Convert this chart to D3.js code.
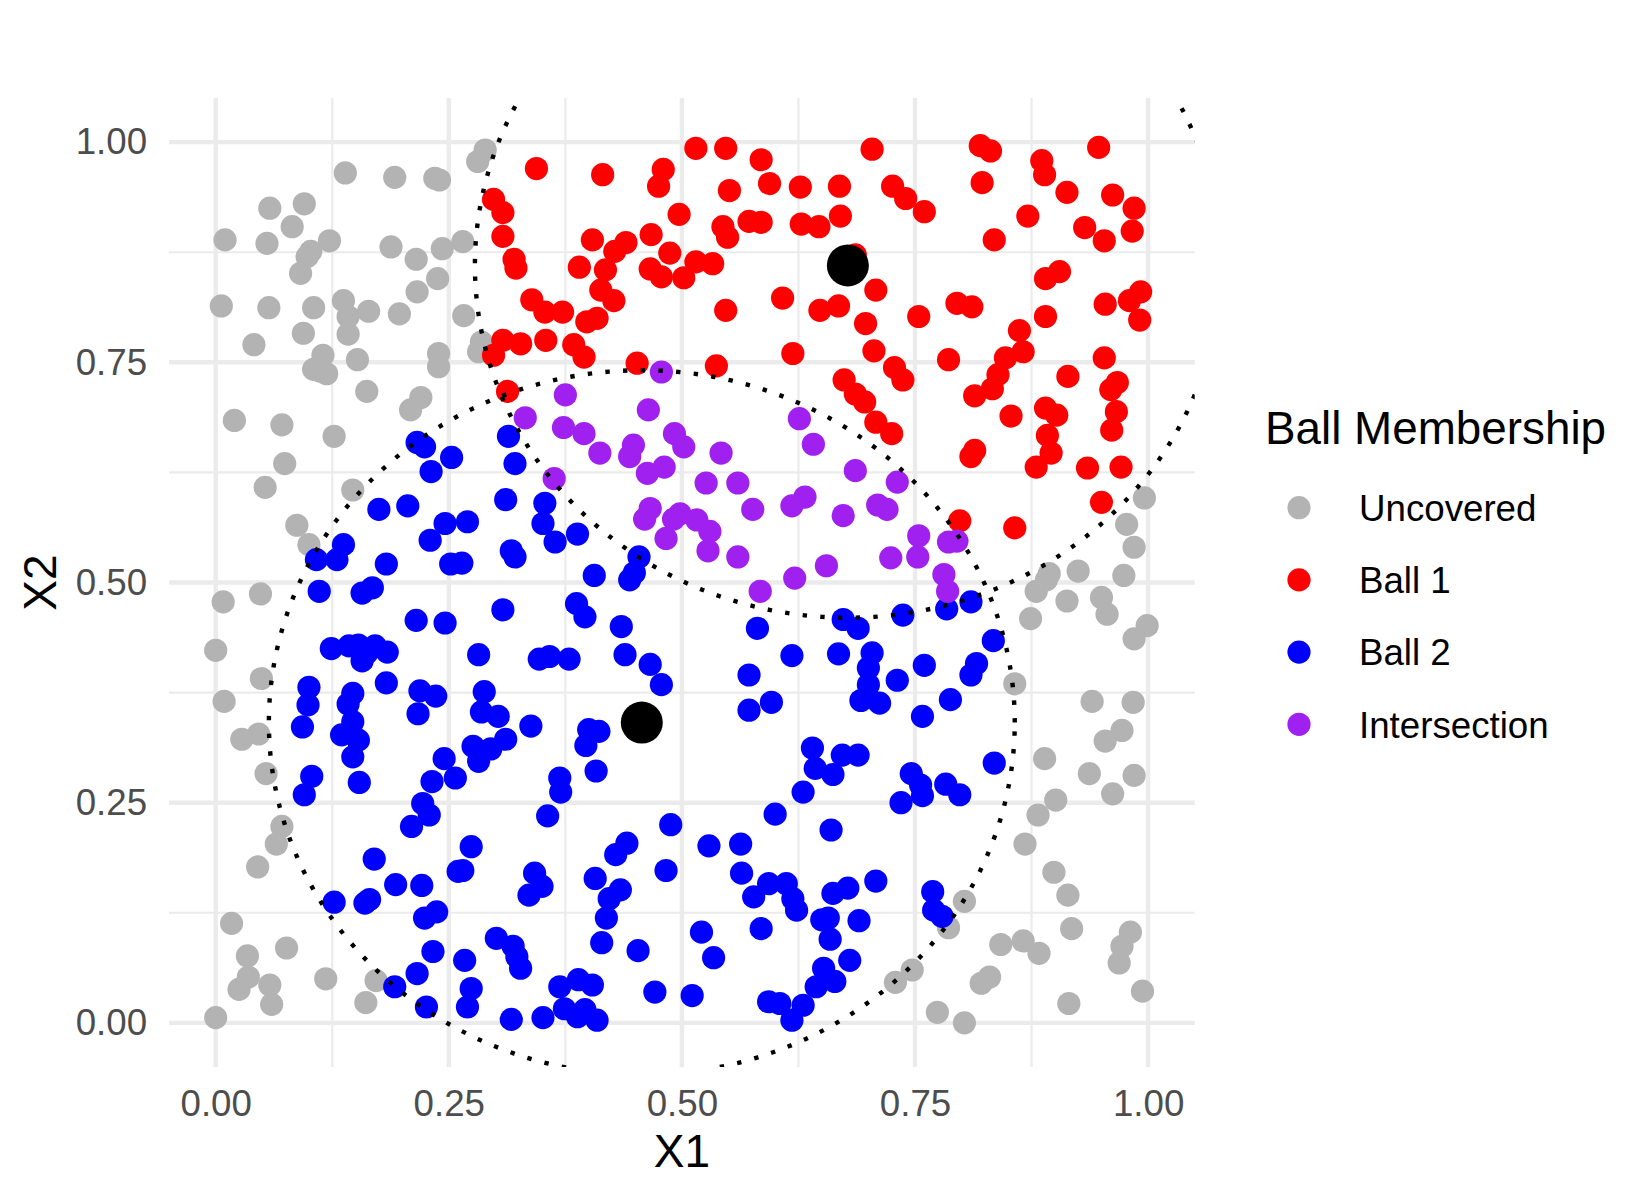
<!DOCTYPE html>
<html>
<head>
<meta charset="utf-8">
<script src="https://cdn.jsdelivr.net/npm/d3@7"></script>
<style>
  html, body { margin: 0; padding: 0; background: #ffffff; }
  svg { display: block; }
</style>
</head>
<body>
<svg id="chart" width="1650" height="1200"></svg>
<script>
// ---------------- DATA ----------------
const categories = ["Uncovered", "Ball 1", "Ball 2", "Intersection"];
const categoryColors = ["#B3B3B3", "#FF0000", "#0000FF", "#A020F0"];
const xTicks = [0, 0.25, 0.5, 0.75, 1];
const yTicks = [0, 0.25, 0.5, 0.75, 1];
const minorBreaks = [0.125, 0.375, 0.625, 0.875];
const ballCenters = [[0.678, 0.860], [0.457, 0.341]];
const ballRadius = [0.4, 0.4];

const uncoveredPts = [
  [0.289,0.991],[0.281,0.978],[0.139,0.965],[0.192,0.960],[0.235,0.959],[0.240,0.957],
  [0.058,0.925],[0.095,0.930],[0.082,0.904],[0.010,0.889],[0.055,0.885],[0.122,0.888],
  [0.102,0.876],[0.098,0.870],[0.091,0.851],[0.188,0.881],[0.215,0.867],[0.243,0.879],
  [0.265,0.887],[0.238,0.845],[0.216,0.830],[0.266,0.803],[0.006,0.814],[0.057,0.812],
  [0.105,0.812],[0.137,0.820],[0.142,0.802],[0.164,0.808],[0.197,0.805],[0.142,0.782],
  [0.041,0.770],[0.094,0.783],[0.115,0.758],[0.105,0.742],[0.112,0.740],[0.119,0.737],
  [0.152,0.753],[0.162,0.717],[0.239,0.760],[0.239,0.745],[0.220,0.710],[0.209,0.696],
  [0.020,0.684],[0.071,0.679],[0.285,0.773],[0.282,0.762],
  [0.127,0.666],[0.074,0.635],[0.053,0.608],[0.147,0.605],[0.087,0.565],[0.100,0.543],
  [0.008,0.478],[0.048,0.487],[0.000,0.423],[0.049,0.391],[0.009,0.365],[0.028,0.322],
  [0.046,0.328],[0.054,0.283],[0.071,0.223],[0.065,0.203],[0.045,0.177],[0.017,0.113],
  [0.034,0.076],[0.035,0.052],[0.025,0.038],[0.076,0.085],[0.058,0.043],[0.060,0.021],
  [0.000,0.006],[0.118,0.050],[0.172,0.048],[0.161,0.023],
  [0.996,0.596],[0.977,0.566],[0.985,0.540],[0.974,0.508],[0.925,0.513],[0.894,0.510],
  [0.891,0.503],[0.880,0.490],[0.913,0.479],[0.874,0.459],[0.950,0.483],[0.956,0.464],
  [0.999,0.451],[0.985,0.436],[0.857,0.385],[0.940,0.365],[0.984,0.364],[0.972,0.332],
  [0.954,0.320],[0.889,0.300],[0.937,0.283],[0.985,0.281],[0.962,0.260],[0.901,0.253],
  [0.882,0.236],[0.868,0.203],[0.899,0.171],[0.914,0.145],[0.918,0.107],[0.842,0.089],
  [0.866,0.093],[0.883,0.079],[0.981,0.103],[0.972,0.087],[0.969,0.068],[0.994,0.036],
  [0.915,0.022],[0.830,0.052],[0.821,0.045],[0.774,0.012],[0.803,0.000],[0.803,0.138],
  [0.786,0.108],[0.747,0.060],[0.729,0.046]
];

const ball1Pts = [
  [0.298,0.935],[0.308,0.920],[0.308,0.893],[0.320,0.867],[0.322,0.857],[0.308,0.775],
  [0.327,0.771],[0.298,0.758],[0.313,0.717],[0.344,0.970],[0.415,0.963],[0.480,0.969],
  [0.475,0.950],[0.515,0.993],[0.547,0.993],[0.585,0.980],[0.551,0.945],[0.594,0.953],
  [0.627,0.949],[0.669,0.950],[0.497,0.918],[0.544,0.904],[0.549,0.892],[0.572,0.910],
  [0.585,0.909],[0.628,0.907],[0.647,0.904],[0.670,0.916],[0.686,0.872],[0.467,0.895],
  [0.487,0.874],[0.440,0.886],[0.428,0.876],[0.404,0.889],[0.390,0.858],[0.418,0.855],
  [0.466,0.856],[0.478,0.847],[0.502,0.846],[0.515,0.864],[0.533,0.862],[0.413,0.832],
  [0.427,0.820],[0.339,0.821],[0.353,0.807],[0.372,0.807],[0.398,0.796],[0.409,0.800],
  [0.547,0.809],[0.608,0.823],[0.648,0.809],[0.668,0.814],[0.697,0.794],[0.354,0.775],
  [0.384,0.770],[0.395,0.756],[0.452,0.749],[0.537,0.746],[0.619,0.760],[0.674,0.730],
  [0.686,0.714],[0.696,0.705],[0.704,0.992],[0.726,0.950],[0.740,0.936],[0.760,0.921],
  [0.820,0.996],[0.831,0.990],[0.822,0.954],[0.835,0.889],[0.871,0.916],[0.886,0.979],
  [0.889,0.963],[0.913,0.943],[0.947,0.994],[0.962,0.940],[0.985,0.925],[0.983,0.899],
  [0.932,0.903],[0.953,0.888],[0.708,0.832],[0.754,0.802],[0.795,0.817],[0.811,0.813],
  [0.890,0.845],[0.905,0.853],[0.890,0.802],[0.954,0.816],[0.980,0.820],[0.992,0.830],
  [0.991,0.798],[0.862,0.786],[0.866,0.762],[0.847,0.755],[0.839,0.736],[0.833,0.720],
  [0.814,0.712],[0.786,0.753],[0.706,0.763],[0.728,0.744],[0.737,0.730],[0.914,0.734],
  [0.953,0.755],[0.967,0.727],[0.960,0.719],[0.966,0.694],[0.890,0.698],[0.902,0.690],
  [0.853,0.689],[0.708,0.682],[0.725,0.669],[0.814,0.650],[0.810,0.643],[0.892,0.667],
  [0.896,0.647],[0.880,0.631],[0.935,0.630],[0.971,0.631],[0.961,0.673],[0.950,0.591],
  [0.798,0.570],[0.857,0.562]
];

const ball2Pts = [
  [0.216,0.659],[0.224,0.654],[0.253,0.642],[0.231,0.626],[0.314,0.666],[0.321,0.635],
  [0.311,0.594],[0.175,0.583],[0.206,0.587],[0.246,0.567],[0.270,0.569],[0.230,0.548],
  [0.137,0.543],[0.130,0.526],[0.108,0.526],[0.183,0.521],[0.252,0.521],[0.264,0.522],
  [0.317,0.536],[0.321,0.529],[0.111,0.490],[0.157,0.488],[0.168,0.494],[0.308,0.469],
  [0.215,0.457],[0.246,0.454],[0.124,0.425],[0.143,0.428],[0.153,0.429],[0.157,0.411],
  [0.171,0.428],[0.184,0.421],[0.162,0.420],[0.282,0.418],[0.183,0.386],[0.100,0.381],
  [0.099,0.361],[0.093,0.336],[0.147,0.374],[0.142,0.362],[0.147,0.342],[0.219,0.377],
  [0.236,0.371],[0.217,0.351],[0.288,0.376],[0.285,0.353],[0.303,0.348],[0.311,0.322],
  [0.135,0.327],[0.153,0.321],[0.147,0.302],[0.103,0.280],[0.095,0.259],[0.154,0.273],
  [0.276,0.314],[0.295,0.311],[0.282,0.297],[0.245,0.300],[0.257,0.278],[0.232,0.274],
  [0.222,0.249],[0.229,0.236],[0.210,0.223],[0.274,0.200],[0.260,0.172],[0.265,0.173],
  [0.170,0.186],[0.193,0.157],[0.221,0.156],[0.127,0.137],[0.160,0.136],[0.165,0.140],
  [0.224,0.119],[0.237,0.126],[0.233,0.081],[0.267,0.071],[0.216,0.056],[0.192,0.041],
  [0.226,0.018],[0.274,0.039],[0.270,0.018],[0.301,0.096],[0.319,0.087],[0.323,0.075],
  [0.327,0.062],[0.317,0.004],[0.338,0.337],[0.400,0.333],[0.411,0.331],[0.397,0.315],
  [0.408,0.286],[0.369,0.278],[0.370,0.262],[0.356,0.235],[0.488,0.225],[0.441,0.204],
  [0.429,0.191],[0.407,0.164],[0.483,0.173],[0.342,0.170],[0.350,0.155],[0.336,0.145],
  [0.434,0.151],[0.422,0.141],[0.419,0.119],[0.414,0.091],[0.453,0.082],[0.369,0.041],
  [0.389,0.049],[0.404,0.043],[0.374,0.016],[0.396,0.015],[0.388,0.007],[0.409,0.003],
  [0.351,0.006],[0.471,0.035],[0.511,0.031],[0.529,0.201],[0.563,0.203],[0.564,0.170],
  [0.600,0.237],[0.630,0.262],[0.640,0.312],[0.643,0.289],[0.662,0.282],[0.672,0.304],
  [0.689,0.304],[0.660,0.219],[0.577,0.143],[0.593,0.158],[0.612,0.158],[0.619,0.141],
  [0.623,0.128],[0.662,0.147],[0.678,0.153],[0.585,0.107],[0.521,0.103],[0.534,0.074],
  [0.650,0.117],[0.657,0.119],[0.659,0.095],[0.690,0.116],[0.680,0.071],[0.652,0.062],
  [0.664,0.047],[0.644,0.041],[0.593,0.024],[0.605,0.022],[0.618,0.003],[0.630,0.020],
  [0.353,0.590],[0.351,0.567],[0.364,0.546],[0.388,0.555],[0.454,0.529],[0.449,0.511],
  [0.444,0.503],[0.406,0.508],[0.387,0.476],[0.396,0.461],[0.435,0.450],[0.347,0.413],
  [0.358,0.416],[0.379,0.413],[0.439,0.418],[0.466,0.407],[0.478,0.384],[0.581,0.448],
  [0.618,0.417],[0.668,0.419],[0.572,0.395],[0.572,0.355],[0.596,0.364],[0.673,0.458],
  [0.689,0.448],[0.737,0.463],[0.784,0.470],[0.810,0.478],[0.834,0.434],[0.704,0.420],
  [0.700,0.403],[0.700,0.384],[0.692,0.366],[0.712,0.363],[0.731,0.389],[0.760,0.406],
  [0.816,0.408],[0.810,0.395],[0.788,0.367],[0.758,0.348],[0.835,0.295],[0.746,0.283],
  [0.756,0.270],[0.758,0.258],[0.735,0.250],[0.783,0.271],[0.798,0.259],[0.708,0.161],
  [0.769,0.149],[0.770,0.128],[0.779,0.121]
];

const intersectionPts = [
  [0.332,0.687],[0.375,0.713],[0.373,0.676],[0.395,0.669],[0.412,0.647],[0.448,0.656],
  [0.444,0.643],[0.464,0.696],[0.478,0.739],[0.492,0.669],[0.502,0.654],[0.542,0.647],
  [0.463,0.624],[0.481,0.631],[0.363,0.618],[0.526,0.613],[0.560,0.613],[0.576,0.583],
  [0.618,0.587],[0.632,0.597],[0.673,0.576],[0.686,0.627],[0.626,0.686],[0.641,0.657],
  [0.466,0.584],[0.460,0.572],[0.498,0.578],[0.491,0.572],[0.516,0.571],[0.530,0.558],
  [0.483,0.550],[0.528,0.536],[0.560,0.529],[0.621,0.505],[0.655,0.519],[0.584,0.490],
  [0.731,0.614],[0.710,0.588],[0.720,0.583],[0.754,0.553],[0.753,0.529],[0.724,0.528],
  [0.786,0.546],[0.795,0.547],[0.781,0.509],[0.785,0.490]
];

// ---------------- LAYOUT ----------------
const FONT = "'Liberation Sans', Arial, Helvetica, sans-serif";
const panel = { left: 169.1, right: 1194.7, top: 98.1, bottom: 1066.9 };
const svg = d3.select("#chart");

const x = d3.scaleLinear().domain([-0.05, 1.05]).range([panel.left, panel.right]);
const y = d3.scaleLinear().domain([-0.05, 1.05]).range([panel.bottom, panel.top]);

svg.append("rect").attr("width", 1650).attr("height", 1200).attr("fill", "#ffffff");

svg.append("defs").append("clipPath").attr("id", "panelClip")
  .append("rect")
  .attr("x", panel.left).attr("y", panel.top)
  .attr("width", panel.right - panel.left).attr("height", panel.bottom - panel.top);

// grid
const grid = svg.append("g");
minorBreaks.forEach(v => {
  grid.append("line").attr("x1", x(v)).attr("x2", x(v)).attr("y1", panel.top).attr("y2", panel.bottom)
    .attr("stroke", "#EBEBEB").attr("stroke-width", 2.2);
  grid.append("line").attr("y1", y(v)).attr("y2", y(v)).attr("x1", panel.left).attr("x2", panel.right)
    .attr("stroke", "#EBEBEB").attr("stroke-width", 2.2);
});
xTicks.forEach(v => {
  grid.append("line").attr("x1", x(v)).attr("x2", x(v)).attr("y1", panel.top).attr("y2", panel.bottom)
    .attr("stroke", "#EBEBEB").attr("stroke-width", 4.4);
});
yTicks.forEach(v => {
  grid.append("line").attr("y1", y(v)).attr("y2", y(v)).attr("x1", panel.left).attr("x2", panel.right)
    .attr("stroke", "#EBEBEB").attr("stroke-width", 4.4);
});

// axes
const fmt = d3.format(".2f");
const xAxis = svg.append("g").attr("transform", `translate(0,${panel.bottom})`)
  .call(d3.axisBottom(x).tickValues(xTicks).tickFormat(fmt).tickSize(0).tickPadding(23));
const yAxis = svg.append("g").attr("transform", `translate(${panel.left},0)`)
  .call(d3.axisLeft(y).tickValues(yTicks).tickFormat(fmt).tickSize(0).tickPadding(22));
[xAxis, yAxis].forEach(a => {
  a.select(".domain").remove();
  a.selectAll("text").attr("fill", "#4D4D4D").attr("font-size", 36.7).attr("font-family", FONT);
});

// points
const groups = [uncoveredPts, ball1Pts, ball2Pts, intersectionPts];
const pts = svg.append("g").attr("clip-path", "url(#panelClip)");
groups.forEach((arr, i) => {
  pts.selectAll(null).data(arr).enter().append("circle")
    .attr("cx", d => x(d[0])).attr("cy", d => y(d[1])).attr("r", 11.6)
    .attr("fill", categoryColors[i]);
});

// dotted ball boundaries
const line = d3.line().x(d => x(d[0])).y(d => y(d[1]));
const circ = svg.append("g").attr("clip-path", "url(#panelClip)");
ballCenters.forEach((c, i) => {
  const ang = d3.range(0, 361).map(k => k * Math.PI / 180);
  const ring = ang.map(a => [c[0] + ballRadius[i] * Math.cos(a), c[1] + ballRadius[i] * Math.sin(a)]);
  circ.append("path").attr("d", line(ring)).attr("fill", "none")
    .attr("stroke", "#000000").attr("stroke-width", 4.4)
    .attr("stroke-dasharray", "4.4 13.3").attr("stroke-linecap", "butt");
});

// centers
svg.append("g").selectAll("circle").data(ballCenters).enter().append("circle")
  .attr("cx", d => x(d[0])).attr("cy", d => y(d[1])).attr("r", 21).attr("fill", "#000000");

// axis titles
svg.append("text").attr("x", (panel.left + panel.right) / 2).attr("y", 1167)
  .attr("text-anchor", "middle").attr("font-size", 46).attr("font-family", FONT).attr("fill", "#000")
  .text("X1");
svg.append("text").attr("transform", `translate(56,${(panel.top + panel.bottom) / 2}) rotate(-90)`)
  .attr("text-anchor", "middle").attr("font-size", 46).attr("font-family", FONT).attr("fill", "#000")
  .text("X2");

// legend
const lg = svg.append("g");
lg.append("text").attr("x", 1265).attr("y", 444).attr("font-size", 45.8).attr("font-family", FONT)
  .attr("fill", "#000").text("Ball Membership");
categories.forEach((c, i) => {
  const cy = 507.7 + i * 72.2;
  lg.append("circle").attr("cx", 1299).attr("cy", cy).attr("r", 11.6).attr("fill", categoryColors[i]);
  lg.append("text").attr("x", 1359).attr("y", cy + 13.3).attr("font-size", 36.7).attr("font-family", FONT)
    .attr("fill", "#000").text(c);
});
</script>
</body>
</html>
